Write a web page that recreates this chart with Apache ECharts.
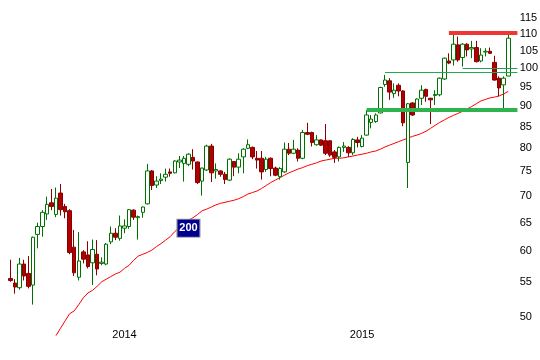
<!DOCTYPE html>
<html>
<head>
<meta charset="utf-8">
<script src="https://cdn.jsdelivr.net/npm/echarts@6/dist/echarts.min.js"></script>
<style>html,body{margin:0;padding:0;background:#fff}#c{width:540px;height:360px}</style>
</head>
<body>
<div id="c"></div>
<script>
// weekly candles, Jul 2013 - Aug 2015
const opens = [55.6,54.9,54.2,57.9,56.4,54.6,62.9,64.3,66.6,68.7, 66.5,70.6,68.0,67.2,60.7,55.8,59.9,59.4,58.1,59.5, 58.0,57.9,61.6,63.1,62.2,64.0,64.3,67.3,65.9,66.9, 68.5,75.1,72.2,73.1,73.8,74.9,74.7,77.0,76.7,76.5, 78.0,77.0,73.0,75.3,80.5,75.1,75.1,74.4,73.2,77.1, 75.9,78.1,80.0,80.2,77.8,77.8,75.4,77.8,75.7,73.9, 74.9,79.8,78.9,79.6,77.8,83.6,83.6,80.8,81.9,81.7, 81.7,79.2,78.1,80.2,80.2,79.0,81.9,80.4,83.0,86.0, 86.2,88.3,95.6,96.6,93.2,95.4,93.9,76.9,90.8,89.2, 92.0,94.3,92.0,92.7,92.9,97.1,102.1,102.4,106.8,103.1, 107.0,105.6,106.0,102.1,104.7,104.9,101.7,97.3,95.5,97.9];
const closes = [55.3,54.3,57.9,56.0,54.4,62.4,64.3,66.9,68.4,68.0, 69.6,67.4,67.0,59.8,56.5,58.4,58.7,57.5,60.3,57.1, 58.2,61.2,63.1,62.4,64.4,64.4,67.4,66.0,66.1,67.9, 75.1,72.1,73.0,73.4,74.4,74.6,77.2,77.4,77.8,78.7, 77.2,72.7,75.7,80.5,74.7,75.4,74.4,73.3,77.6,75.9, 77.6,79.8,80.8,78.1,77.4,74.9,77.6,75.6,74.2,75.6, 79.8,78.9,79.8,77.8,83.6,83.2,81.3,81.9,80.7,78.9, 78.5,78.0,80.2,80.5,79.0,82.0,81.3,82.3,87.8,86.8, 87.8,94.8,96.8,93.6,94.1,93.9,85.9,90.6,87.8,91.8, 94.1,92.5,91.6,93.0,97.3,102.9,101.5,107.0,102.4,107.0, 105.3,106.0,101.9,103.8,104.9,104.3,96.8,94.7,97.3,108.8];
const lows = [55.1,53.3,53.9,55.3,54.1,51.7,60.5,62.5,65.5,67.3, 66.0,66.3,65.8,59.5,56.0,55.3,58.0,57.2,54.6,56.1, 57.7,57.7,61.2,61.9,61.8,63.1,63.9,65.5,62.0,65.9, 68.4,71.2,71.6,72.4,72.9,73.9,74.6,75.7,72.9,76.1, 75.4,72.4,70.1,75.1,72.8,73.5,73.9,72.4,73.0,74.0, 74.6,74.6,79.8,77.6,75.6,73.3,74.9,74.0,74.0,73.3, 74.7,78.5,78.7,77.1,77.6,83.0,80.4,80.6,80.5,78.5, 78.1,76.8,77.1,79.2,78.1,78.5,80.2,80.2,82.9,84.6, 85.9,88.2,95.0,91.6,92.1,92.5,85.1,71.6,87.6,89.0, 90.3,91.1,85.6,90.3,92.5,96.8,101.2,100.8,101.9,100.5, 103.4,102.9,101.7,101.7,103.4,104.2,96.6,92.5,89.1,97.9];
const highs = [58.6,55.5,58.9,58.6,59.2,62.5,65.0,67.3,69.9,71.4, 71.7,72.4,68.5,67.5,63.7,63.3,60.2,61.7,62.0,61.9, 59.0,61.4,64.3,64.0,66.3,65.6,67.5,67.5,66.3,68.0, 76.6,75.3,74.0,74.6,75.6,75.6,77.4,78.3,78.3,78.9, 79.8,77.1,75.8,80.8,81.0,76.7,75.2,74.9,77.8,77.2, 78.9,80.0,82.0,80.4,79.4,79.4,78.1,78.0,76.0,75.9, 81.3,81.2,81.9,80.0,84.2,85.9,83.8,83.0,82.0,85.6, 81.8,79.6,80.4,81.4,80.5,82.3,82.6,83.0,89.0,87.8, 88.2,95.0,98.2,97.3,95.9,95.9,94.1,90.8,91.0,92.0, 95.4,94.5,92.1,94.1,97.5,103.1,104.3,109.8,109.3,107.3, 107.3,108.0,108.0,105.8,105.8,106.0,103.6,97.8,97.8,110.3];
// 200-day moving average
const ma200 = [null,null,null,null,null,null,null,null,null,null, 47.4,48.4,49.4,50.4,50.8,51.7,52.7,53.4,53.8,54.4, 55.1,55.5,55.9,56.3,56.6,57.2,57.7,58.5,59.2,59.5, 59.8,60.2,60.8,61.3,61.9,62.5,63.4,64.1,64.7,65.4, 65.9,66.5,67.2,67.5,67.9,68.3,68.6,68.8,69.0,69.2, 69.5,69.9,70.4,70.7,71.0,71.5,72.1,72.7,73.2,73.7, 74.2,74.7,75.1,75.5,75.8,76.2,76.5,76.8,77.2,77.4, 77.6,77.8,77.8,77.9,78.1,78.3,78.5,78.7,78.9,79.2, 79.4,79.8,80.3,80.7,81.1,81.5,81.9,82.3,82.7,83.0, 83.4,83.9,84.6,85.3,86.0,86.6,87.2,87.7,88.2,88.7, 89.3,89.9,90.6,91.3,91.7,92.1,92.3,92.6,93.1,93.8];
const yTicks = [50,55,60,65,70,75,80,85,90,95,100,105,110,115];
// horizontal levels: [price, start week index]
const redLevel = [110.4, 96];
const greenLevel = [89.2, 78];
const boxLineA = [98.9, 82];
const boxLineB = [100.1, 99];
const maLabel = ['200', 39, 64.0];

const weeks = 112;
const dates = [];
const t0 = Date.UTC(2013, 6, 15);
for (let i = 0; i < weeks; i++) {
  const d = new Date(t0 + i * 7 * 86400000);
  dates.push(d.toISOString().slice(0, 10));
}
const L = v => (v == null ? null : Math.log(v));
const candles = opens.map((o, i) => [L(o), L(closes[i]), L(lows[i]), L(highs[i])]);
const last = dates[weeks - 1];
function seg(level, width, color) {
  return [{coord: [dates[level[1]], L(level[0])], lineStyle: {width: width, color: color, type: 'solid'}},
          {coord: [last, L(level[0])]}];
}

const chart = echarts.init(document.getElementById('c'), null, {renderer: 'canvas'});
chart.setOption({
  animation: false,
  backgroundColor: '#fff',
  grid: {left: 8, right: 20.3, top: 5, bottom: 20, outerBoundsMode: 'none'},
  xAxis: {
    type: 'category', data: dates, boundaryGap: true,
    axisLine: {show: false}, axisTick: {show: false}, splitLine: {show: false},
    axisLabel: {
      inside: true, margin: 0, fontSize: 11, color: '#000', fontFamily: 'Liberation Sans, Arial',
      interval: (i, v) => i > 0 && v.slice(0, 4) !== dates[i - 1].slice(0, 4),
      formatter: v => v.slice(0, 4)
    }
  },
  yAxis: {
    type: 'value', position: 'right', scale: true,
    min: Math.log(46.83), max: Math.log(119.38),
    axisLine: {show: false}, axisTick: {show: false}, splitLine: {show: false},
    axisLabel: {
      customValues: yTicks.map(v => Math.log(v)), margin: 0,
      fontSize: 11, color: '#000', fontFamily: 'Liberation Sans, Arial',
      formatter: v => String(Math.round(Math.exp(v)))
    }
  },
  series: [
    {
      type: 'line', data: ma200.map(L), showSymbol: false, symbol: 'none', clip: false,
      lineStyle: {color: '#ff0000', width: 1}, z: 1,
      markPoint: {
        symbol: 'rect', symbolSize: [23, 18],
        itemStyle: {color: '#000090', borderColor: '#9a9a9a', borderWidth: 1},
        label: {show: true, position: 'inside', color: '#fff', fontWeight: 'bold', fontSize: 11, fontFamily: 'Liberation Sans, Arial', formatter: maLabel[0]},
        data: [{coord: [dates[maLabel[1]], L(maLabel[2])]}]
      }
    },
    {
      type: 'candlestick', data: candles, barWidth: 4, z: 3,
      itemStyle: {color: '#ffffff', color0: '#b00000', borderColor: '#007000', borderColor0: '#8a0000', borderWidth: 1},
      markLine: {
        symbol: ['none', 'none'], silent: true, label: {show: false},
        data: [
          seg(greenLevel, 4, '#2eb34f'),
          seg(redLevel, 4, '#f03535'),
          seg(boxLineA, 1, '#22aa44'),
          seg(boxLineB, 1, '#1f9a66')
        ]
      }
    }
  ]
});
</script>
</body>
</html>
